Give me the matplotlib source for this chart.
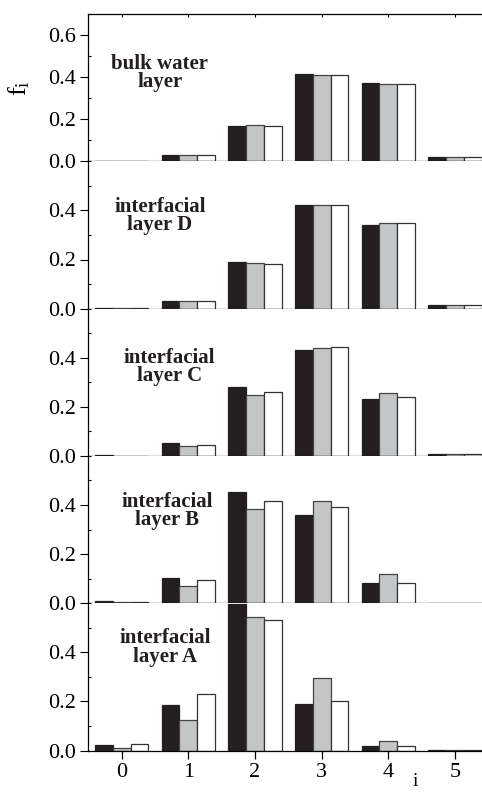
#!/usr/bin/env python3
"""fraction f_i of molecules with i hydrogen bonds, per water layer"""
import matplotlib
matplotlib.use('Agg')
import matplotlib.pyplot as plt
from matplotlib.ticker import MultipleLocator

plt.rcParams['font.family'] = 'Liberation Serif'
plt.rcParams['mathtext.fontset'] = 'custom'
plt.rcParams['mathtext.rm'] = 'Liberation Serif'
plt.rcParams['mathtext.it'] = 'Liberation Serif:italic'

# number of hydrogen bonds
i_vals = [0, 1, 2, 3, 4, 5]
x_ticklabels = ['0', '1', '2', '3', '4', '5']

layer_names = ['bulk water\nlayer', 'interfacial\nlayer D', 'interfacial\nlayer C',
               'interfacial\nlayer B', 'interfacial\nlayer A']

# each layer: [black series, gray series, white series]
f_bulk = [[0.002, 0.029, 0.170, 0.413, 0.371, 0.022],
          [0.001, 0.028, 0.171, 0.410, 0.367, 0.020],
          [0.001, 0.028, 0.170, 0.410, 0.366, 0.022]]
f_D = [[0.002, 0.030, 0.189, 0.422, 0.340, 0.016],
       [0.001, 0.030, 0.184, 0.422, 0.348, 0.014],
       [0.001, 0.029, 0.180, 0.422, 0.348, 0.016]]
f_C = [[0.002, 0.054, 0.279, 0.431, 0.231, 0.007],
       [0.001, 0.042, 0.249, 0.441, 0.257, 0.009],
       [0.001, 0.045, 0.260, 0.444, 0.238, 0.006]]
f_B = [[0.007, 0.101, 0.452, 0.358, 0.084, 0.002],
       [0.003, 0.071, 0.385, 0.415, 0.117, 0.002],
       [0.005, 0.093, 0.418, 0.393, 0.084, 0.001]]
f_A = [[0.022, 0.184, 0.595, 0.190, 0.020, 0.001],
       [0.010, 0.124, 0.543, 0.295, 0.038, 0.001],
       [0.026, 0.229, 0.533, 0.201, 0.020, 0.001]]
layers = [f_bulk, f_D, f_C, f_B, f_A]

# styles / layout
bar_colors = ['#231f20', '#c4c5c7', '#ffffff']
edge_colors = ['#231f20', '#444444', '#333333']
label_pos = [(0.179, 0.60), (0.179, 0.628), (0.202, 0.603),
             (0.197, 0.626), (0.192, 0.70)]
W, H = 482, 792
edges_px = [14, 161.3, 308.6, 455.9, 603.2, 750.5]
left_px, width_px = 88.3, 400.0
bw = 0.8 / 3

fig = plt.figure(figsize=(W / 100, H / 100), dpi=100)
n = len(layers)
for k, data in enumerate(layers):
    top, bot = edges_px[k], edges_px[k + 1]
    ax = fig.add_axes([left_px / W, 1 - bot / H, width_px / W, (bot - top) / H])
    for s in range(3):
        xs = [x + (s - 1) * bw for x in i_vals]
        ax.bar(xs, data[s], width=bw, color=bar_colors[s],
               edgecolor=edge_colors[s], linewidth=0.9)
    ax.set_xlim(-0.5, 5.5)
    if k == 0:
        ax.set_ylim(0, 0.7)
        ax.set_yticks([0, 0.2, 0.4, 0.6])
    else:
        ax.set_ylim(0, 0.6)
        ax.set_yticks([0, 0.2, 0.4])
    ax.set_yticklabels([f'{v:.1f}' for v in ax.get_yticks()])
    ax.yaxis.set_minor_locator(MultipleLocator(0.1))
    ax.tick_params(axis='y', which='major', direction='out', length=6,
                   width=0.8, labelsize=16, pad=3)
    ax.tick_params(axis='y', which='minor', direction='in', length=2, width=0.8)
    ax.spines['right'].set_visible(False)
    for sp in ['left', 'bottom', 'top']:
        ax.spines[sp].set_linewidth(0.9)
    ax.set_xticks(i_vals)
    if k == 0:
        ax.tick_params(axis='x', top=True, bottom=False, direction='in',
                       length=2.5, width=0.8, labelbottom=False)
    else:
        ax.spines['top'].set_visible(False)
        if k == n - 1:
            ax.set_xticklabels(x_ticklabels)
            ax.tick_params(axis='x', direction='out', length=5.5, width=0.9,
                           labelsize=16, pad=3.5)
        else:
            ax.tick_params(axis='x', bottom=False, labelbottom=False)
    lx, ly = label_pos[k]
    ax.text(lx, ly, layer_names[k], transform=ax.transAxes, ha='center',
            va='center', fontsize=15, fontweight='bold', linespacing=0.92,
            color='#231f20')

fig.text(19 / W, 1 - 88 / H, r'$\mathrm{f_i}$', rotation=90, fontsize=19,
         ha='center', va='center')
fig.text(415 / W, 1.5 / H, 'i', fontsize=14, ha='center', va='bottom')

fig.savefig('out.png', dpi=100)
